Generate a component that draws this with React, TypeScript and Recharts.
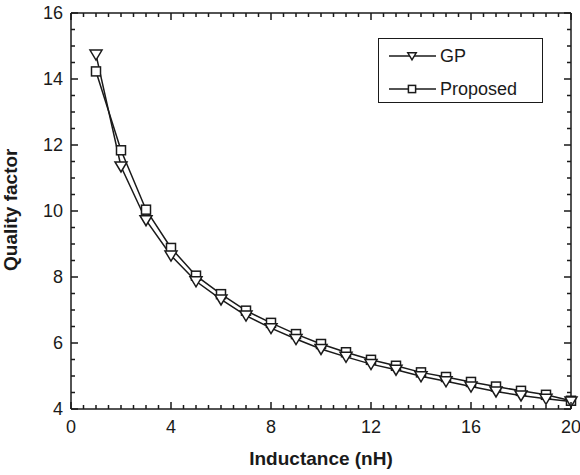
import { LineChart, Line, XAxis, YAxis } from "recharts";

const inductance = [1, 2, 3, 4, 5, 6, 7, 8, 9, 10, 11, 12, 13, 14, 15, 16, 17, 18, 19, 20];
const gp = [14.74, 11.35, 9.72, 8.65, 7.87, 7.32, 6.83, 6.45, 6.12, 5.82, 5.58, 5.36, 5.19, 4.99, 4.84, 4.68, 4.53, 4.41, 4.31, 4.23];
const proposed = [14.23, 11.84, 10.04, 8.88, 8.04, 7.48, 6.98, 6.61, 6.27, 5.97, 5.72, 5.49, 5.31, 5.11, 4.97, 4.82, 4.68, 4.55, 4.43, 4.25];

const xMajor = [0, 4, 8, 12, 16, 20];
const yMajor = [4, 6, 8, 10, 12, 14, 16];
const xTicks = Array.from({ length: 41 }, (_, i) => i * 0.5);
const yTicks = Array.from({ length: 25 }, (_, i) => 4 + i * 0.5);

const data = inductance.map((x, i) => ({ x, gp: gp[i], proposed: proposed[i] }));

const INK = "#1a1a1a";
const FONT = "'Liberation Sans', Arial, sans-serif";
const MAJ = 7;
const MIN = 4;

function Tri({ cx, cy, s = 1 }: any) {
  if (cx == null || cy == null) return null;
  const w = 6 * s;
  return (
    <path
      d={`M${cx - w},${cy - 4.5 * s} L${cx + w},${cy - 4.5 * s} L${cx},${cy + 5.5 * s} Z`}
      fill="#fff"
      stroke={INK}
      strokeWidth={1.5}
    />
  );
}

function Sq({ cx, cy, s = 1 }: any) {
  if (cx == null || cy == null) return null;
  const h = 4.5 * s;
  return <rect x={cx - h} y={cy - h} width={2 * h} height={2 * h} fill="#fff" stroke={INK} strokeWidth={1.5} />;
}

// ticks point into the plot, majors longer than minors
function BottomTick(props: any) {
  const { x, y, payload } = props;
  const major = xMajor.includes(payload.value);
  const len = major ? MAJ : MIN;
  return (
    <g>
      <rect x={x - 0.75} y={y - len} width={1.5} height={len} fill={INK} />
      {major && (
        <text x={x} y={y + 24} textAnchor="middle" fontSize={18} fill={INK} fontFamily={FONT}>
          {payload.value}
        </text>
      )}
    </g>
  );
}

function TopTick(props: any) {
  const { x, y, payload } = props;
  const len = xMajor.includes(payload.value) ? MAJ : MIN;
  return <rect x={x - 0.75} y={y} width={1.5} height={len} fill={INK} />;
}

function LeftTick(props: any) {
  const { x, y, payload } = props;
  const major = yMajor.includes(payload.value);
  const len = major ? MAJ : MIN;
  return (
    <g>
      <rect x={x} y={y - 0.75} width={len} height={1.5} fill={INK} />
      {major && (
        <text x={x - 8} y={y + 6} textAnchor="end" fontSize={18} fill={INK} fontFamily={FONT}>
          {payload.value}
        </text>
      )}
    </g>
  );
}

function RightTick(props: any) {
  const { x, y, payload } = props;
  const len = yMajor.includes(payload.value) ? MAJ : MIN;
  return <rect x={x - len} y={y - 0.75} width={len} height={1.5} fill={INK} />;
}

function LegendBox() {
  const rows = [
    { label: "GP", marker: <Tri cx={34} cy={18} s={0.7} /> },
    { label: "Proposed", marker: <Sq cx={34} cy={51} s={0.8} /> },
  ];
  return (
    <svg width={165} height={65} style={{ position: "absolute", left: 378, top: 38 }}>
      <rect x={0.5} y={0.5} width={164} height={64} fill="#fff" stroke={INK} strokeWidth={1} />
      {rows.map((r, i) => {
        const cy = 18 + i * 33;
        return (
          <g key={r.label}>
            <line x1={11} x2={58} y1={cy} y2={cy} stroke={INK} strokeWidth={1.5} />
            {r.marker}
            <text x={62} y={cy + 6} fontSize={18} fill={INK} fontFamily={FONT}>
              {r.label}
            </text>
          </g>
        );
      })}
    </svg>
  );
}

export default function App() {
  return (
    <div style={{ position: "absolute", left: 0, top: 0, width: 580, height: 475, background: "#fff" }}>
      <LineChart width={580} height={475} data={data} margin={{ top: 12, right: 8, left: 0, bottom: 0 }}>
        <XAxis
          dataKey="x"
          type="number"
          domain={[0, 20]}
          ticks={xTicks}
          interval={0}
          tickSize={0}
          tickMargin={0}
          tickLine={false}
          tick={BottomTick}
          axisLine={{ stroke: INK, strokeWidth: 1.5 }}
          height={66}
          label={{ value: "Inductance (nH)", position: "insideBottom", offset: 10, fontSize: 19, fontWeight: "bold", fill: INK, fontFamily: FONT }}
        />
        <XAxis
          xAxisId="top"
          dataKey="x"
          orientation="top"
          type="number"
          domain={[0, 20]}
          ticks={xTicks}
          interval={0}
          tickSize={0}
          tickMargin={0}
          tickLine={false}
          tick={TopTick}
          axisLine={{ stroke: INK, strokeWidth: 1.5 }}
          height={1}
        />
        <YAxis
          type="number"
          domain={[4, 16]}
          ticks={yTicks}
          interval={0}
          tickSize={0}
          tickMargin={0}
          tickLine={false}
          tick={LeftTick}
          axisLine={{ stroke: INK, strokeWidth: 1.5 }}
          width={71}
          label={{ value: "Quality factor", angle: -90, position: "insideLeft", offset: 10, dy: 60, fontSize: 19, fontWeight: "bold", fill: INK, fontFamily: FONT }}
        />
        <YAxis
          yAxisId="right"
          orientation="right"
          type="number"
          domain={[4, 16]}
          ticks={yTicks}
          interval={0}
          tickSize={0}
          tickMargin={0}
          tickLine={false}
          tick={RightTick}
          axisLine={{ stroke: INK, strokeWidth: 1.5 }}
          width={1}
        />
        <Line dataKey="proposed" name="Proposed" stroke={INK} strokeWidth={1.5} dot={<Sq />} isAnimationActive={false} />
        <Line
          dataKey="gp"
          name="GP"
          xAxisId="top"
          yAxisId="right"
          stroke={INK}
          strokeWidth={1.5}
          dot={<Tri />}
          isAnimationActive={false}
        />
      </LineChart>
      <LegendBox />
    </div>
  );
}
